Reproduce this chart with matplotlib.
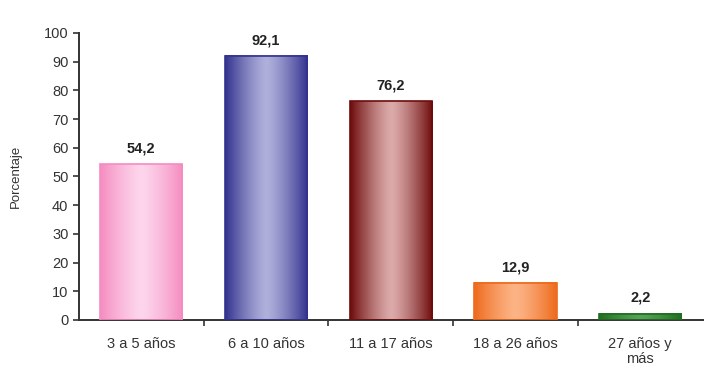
import numpy as np
import matplotlib
matplotlib.use('Agg')
import matplotlib.pyplot as plt
from matplotlib.colors import LinearSegmentedColormap

categorias = ['3 a 5 años', '6 a 10 años', '11 a 17 años', '18 a 26 años', '27 años y\nmás']
valores = [54.2, 92.1, 76.2, 12.9, 2.2]
etiquetas = ['54,2', '92,1', '76,2', '12,9', '2,2']
# (borde, centro) de cada barra
colores = [('#f58cc0', '#fdd6ec'),
           ('#33338f', '#b0b0dc'),
           ('#6e0c0c', '#dcaaaa'),
           ('#ee6a1c', '#fcb486'),
           ('#1f6e1f', '#5aa05a')]

plt.rcParams['font.family'] = ['Liberation Sans', 'DejaVu Sans']

fig = plt.figure(figsize=(7.04, 3.75), dpi=100)
ax = fig.add_axes([0.112, 0.147, 0.886, 0.765])

x = np.arange(len(valores))
ancho = 0.66
barras = ax.bar(x, valores, width=ancho, color='none', zorder=3)

grad = np.linspace(-1, 1, 200)
perfil = 1 - np.abs(grad) ** 1.3
for b, (c_borde, c_centro), v in zip(barras, colores, valores):
    cmap = LinearSegmentedColormap.from_list('g', [c_borde, c_centro])
    x0 = b.get_x()
    ax.imshow(perfil[np.newaxis, :], cmap=cmap, aspect='auto',
              extent=[x0, x0 + ancho, 0, v], zorder=2, vmin=0, vmax=1)
    ax.add_patch(plt.Rectangle((x0, 0), ancho, v, fill=False,
                               edgecolor=c_borde, linewidth=1.2, zorder=3))

for xi, v, t in zip(x, valores, etiquetas):
    ax.text(xi, v + 3, t, ha='center', va='bottom', fontsize=10.5,
            fontweight='bold', color='#222222')

ax.set_xlim(-0.5, len(valores) - 0.5)
ax.set_ylim(0, 100)
ax.set_yticks(np.arange(0, 101, 10))
ax.set_xticks(x)
ax.set_xticklabels(categorias, fontsize=10.5, color='#333333', linespacing=1.15)
ax.set_xticks(np.arange(0.5, len(valores) - 1, 1), minor=True)
ax.tick_params(axis='x', which='major', length=0, pad=12)
ax.tick_params(axis='x', which='minor', length=4, width=1.2, direction='out', color='#333333')
ax.tick_params(axis='y', labelsize=10.5, length=4, width=1.2, colors='#333333')
ax.set_ylabel('Porcentaje', fontsize=9.5, color='#333333', labelpad=16)

for s in ['top', 'right']:
    ax.spines[s].set_visible(False)
for s in ['left', 'bottom']:
    ax.spines[s].set_color('#333333')
    ax.spines[s].set_linewidth(1.4)

plt.savefig('out.png', dpi=100)
